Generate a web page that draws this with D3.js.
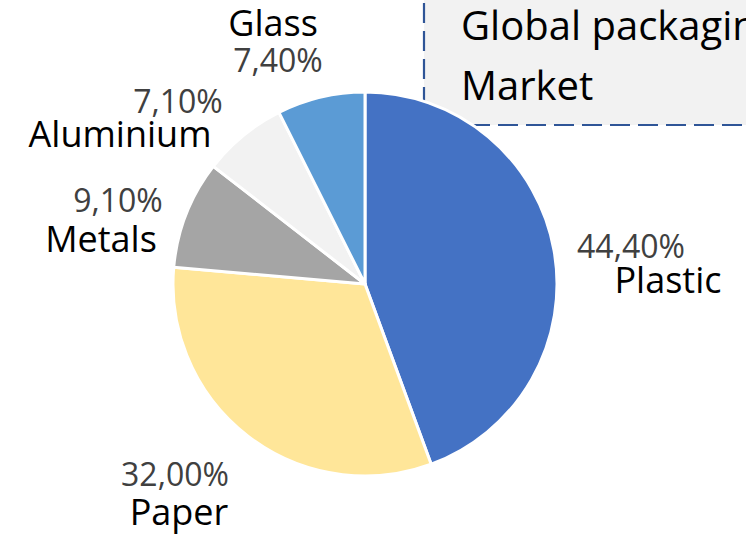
<!DOCTYPE html>
<html>
<head>
<meta charset="utf-8">
<script src="https://cdn.jsdelivr.net/npm/d3@7"></script>
<style>
  html, body { margin: 0; padding: 0; background: #ffffff; overflow: hidden; }
  svg { display: block; }
</style>
</head>
<body>
<script>
// Packaging material shares (percent of global market)
const categories = ["Plastic", "Paper", "Metals", "Aluminium", "Glass"];
const shares = [44.4, 32.0, 9.1, 7.1, 7.4];
const titleLines = ["Global packaging", "Market"];

// Colours for each slice, in category order
const sliceColors = ["#4472C4", "#FFE699", "#A5A5A5", "#F2F2F2", "#5B9BD5"];

// Label placement relative to the pie centre: [pctDx, pctDy, nameDx, nameDy]
const labelLayout = [
  [266, -26, 303, 9],
  [-190, 202, -186, 241],
  [-247, -72, -264, -32],
  [-187, -171, -245, -137],
  [-87, -212, -92, -248]
];

const W = 746, H = 535;
const cx = 365, cy = 284, R = 192;

const svg = d3.select("body").append("svg")
  .attr("width", W).attr("height", H)
  .attr("viewBox", `0 0 ${W} ${H}`);

// Title box (dashed outline, light fill), runs off the top and right edges
const box = svg.append("g");
box.append("rect")
  .attr("x", 424).attr("y", -20)
  .attr("width", W - 424 + 40).attr("height", 125 + 20)
  .attr("fill", "#F2F2F2")
  .attr("stroke", "#2F5597")
  .attr("stroke-width", 2.2)
  .attr("stroke-dasharray", "20 8")
  .attr("stroke-dashoffset", 9);

box.selectAll("text.title")
  .data(titleLines)
  .join("text")
  .attr("class", "title")
  .attr("x", 461)
  .attr("y", (d, i) => 40 + i * 60)
  .attr("font-family", "'Open Sans', sans-serif")
  .attr("font-size", 40)
  .attr("fill", "#000")
  .text(d => d);

// Pie
const data = categories.map((c, i) => ({ name: c, value: shares[i], color: sliceColors[i], layout: labelLayout[i] }));
const pie = d3.pie().value(d => d.value).sort(null);
const arc = d3.arc().innerRadius(0).outerRadius(R);

const g = svg.append("g").attr("transform", `translate(${cx},${cy})`);
g.selectAll("path")
  .data(pie(data))
  .join("path")
  .attr("d", arc)
  .attr("fill", d => d.data.color)
  .attr("stroke", "#ffffff")
  .attr("stroke-width", 3)
  .attr("stroke-linejoin", "round");

// Labels: percentage (grey) and category name (black)
const locale = d3.formatLocale({ decimal: ",", thousands: ".", grouping: [3], currency: ["", ""] });
const fmt = locale.format(".2f");

const labels = g.selectAll("g.label")
  .data(data)
  .join("g")
  .attr("class", "label");

labels.append("text")
  .attr("x", d => d.layout[0])
  .attr("y", d => d.layout[1])
  .attr("text-anchor", "middle")
  .attr("font-family", "'Open Sans', sans-serif")
  .attr("font-size", 32)
  .attr("fill", "#404040")
  .text(d => fmt(d.value) + "%");

labels.append("text")
  .attr("x", d => d.layout[2])
  .attr("y", d => d.layout[3])
  .attr("text-anchor", "middle")
  .attr("font-family", "'Open Sans', sans-serif")
  .attr("font-size", 36)
  .attr("fill", "#000")
  .text(d => d.name);
</script>
</body>
</html>
